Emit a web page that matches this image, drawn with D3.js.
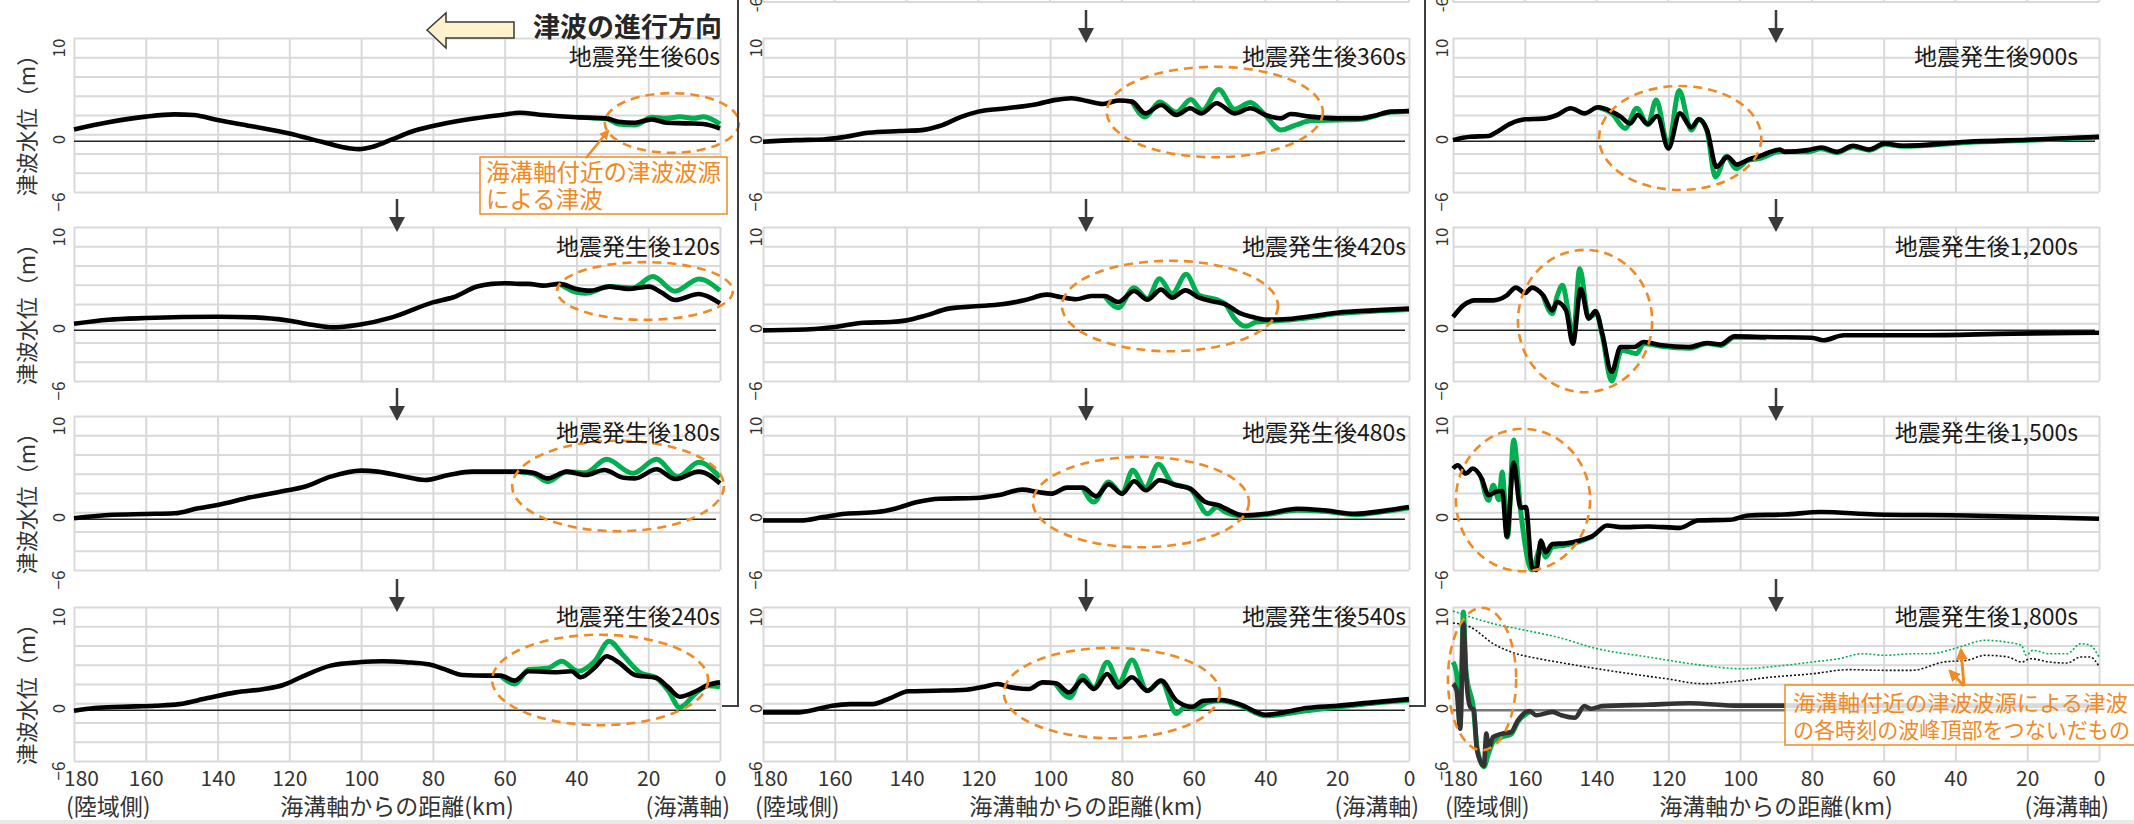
<!DOCTYPE html>
<html><head><meta charset="utf-8">
<script src="https://cdn.jsdelivr.net/npm/d3@7"></script>
<style>
body{margin:0;background:#fff;}
svg{display:block;}
text{font-family:"Noto Sans CJK JP","Noto Sans",sans-serif;}
</style>
</head><body>
<svg id="c" width="2134" height="824"></svg>
<script>
// ---------- data (km from trench axis, water level m) ----------
const xTicks = [180,160,140,120,100,80,60,40,20,0];
const yGrid  = [10,8,6,4,2,0,-2,-4,-6];
const yLabels = [10,0,-6];
const titles = ["地震発生後60s","地震発生後120s","地震発生後180s","地震発生後240s",
                "地震発生後360s","地震発生後420s","地震発生後480s","地震発生後540s",
                "地震発生後900s","地震発生後1,200s","地震発生後1,500s","地震発生後1,800s"];

const black60 = [[180,0.5],[170.4,1.24],[160,1.83],[152,2.07],[146.7,2.0],[140,1.48],[129.6,0.78],[120,0.09],[111,-0.78],[103,-1.48],[100.6,-1.55],[96.7,-1.3],[91.4,-0.54],[86,0.26],[80,0.85],[70,1.55],[60,2.05],[55.9,2.24],[49.3,2.0],[40,1.76],[31.6,1.65],[28.3,1.3],[23.7,1.2],[19,1.55],[15,1.2],[8.5,1.13],[4.6,1.06],[0,0.6]];
const green60 = [[40,1.76],[31.6,1.6],[28.3,1.06],[23.7,0.96],[19,1.76],[15,1.65],[11.2,1.83],[7.3,1.65],[4.6,1.83],[0,1.06]];

const black120 = [[180,-0.05],[170.4,0.37],[160,0.54],[140,0.68],[129.6,0.61],[120,0.26],[113.8,-0.16],[107.9,-0.43],[100.6,-0.16],[91.4,0.61],[80,2.17],[74.3,2.7],[67.7,3.81],[63.6,4.09],[60,4.16],[55.9,4.09],[53.3,4.09],[49.3,3.91],[44.7,4.09],[40,3.57],[36.1,3.39],[30.9,3.81],[25.6,3.57],[19.7,3.81],[16.4,3.22],[12.5,2.42],[5.9,3.04],[3.3,2.77],[0,2.07]];
const green120 = [[44.7,4.09],[40,3.22],[37.4,3.11],[30.9,3.81],[24.3,3.67],[18.7,4.85],[12.5,3.32],[5.9,4.61],[0,3.39]];

const black180 = [[180,-0.63],[170.4,-0.29],[160,-0.18],[152,-0.11],[145.4,0.41],[140,0.75],[130.8,1.55],[120,2.31],[116.3,2.59],[108.5,3.7],[100,4.32],[95.4,4.22],[88.8,3.77],[82.2,3.35],[75.6,3.87],[69.1,4.22],[62.5,4.22],[55.9,4.22],[52,4.11],[48,3.52],[42.7,4.22],[37.5,3.87],[32.2,4.39],[26.9,3.59],[23.7,3.52],[17.7,4.46],[12.5,3.46],[5.9,4.22],[0,3.0]];
const green180 = [[55.9,4.22],[52,4.0],[48,3.18],[42.7,4.22],[37.5,4.11],[31.6,5.5],[24.3,4.04],[17.7,5.5],[11.8,3.7],[5.9,5.19],[0,3.63]];

const black240 = [[180,-0.78],[174.3,-0.5],[166.4,-0.37],[157.2,-0.26],[150.7,-0.09],[142.8,0.54],[134.9,1.13],[127,1.48],[121.7,1.9],[116.4,2.77],[108.5,3.91],[100.6,4.26],[94,4.37],[87.5,4.26],[80.9,4.02],[77,3.57],[71.7,2.94],[65.1,2.87],[61.2,2.87],[57.2,2.35],[53.3,3.32],[45.4,3.22],[41.4,3.32],[38.8,2.7],[34.8,3.74],[31.6,4.89],[28.3,4.26],[23.7,2.94],[17.7,2.63],[14.4,1.65],[11.2,0.68],[6.5,1.3],[3.3,1.9],[0,2.17]];
const green240 = [[61.2,2.87],[57.2,2.0],[53.3,3.5],[48,3.63],[44.1,4.37],[39.5,3.32],[34.8,4.43],[30.9,6.45],[26.9,4.96],[22.4,3.22],[17.7,2.63],[14.4,1.3],[11.2,-0.43],[6.5,1.13],[3.3,1.83],[0,1.72]];

const black360 = [[180,-0.78],[170.7,-0.61],[163.2,-0.54],[157,-0.26],[150.7,0.16],[142,0.33],[135.8,0.43],[130.8,0.85],[124.6,1.83],[120,2.35],[112.1,2.7],[103.4,3.15],[98.4,3.57],[94,3.74],[89.7,3.46],[85.3,3.15],[81,3.5],[77.2,3.39],[73.5,2.17],[69.1,3.04],[64.8,2.0],[61,2.7],[57.9,2.17],[53.6,3.22],[48.6,2.17],[44.2,2.7],[40,2.0],[35.6,1.65],[33.1,2.1],[27.5,1.83],[20,1.65],[13.7,1.65],[10,1.9],[5,2.35],[0,2.42]];
const green360 = [[77.2,3.39],[73.5,1.8],[69.5,3.35],[64.8,2.3],[60.8,3.6],[57.6,2.5],[53,4.65],[48.6,2.6],[44.2,3.3],[40.6,2.2],[35.6,0.45],[31.6,0.95],[27.5,1.4],[20,1.48],[13.7,1.55],[5,2.3],[0,2.4]];

const black420 = [[180,-0.74],[166.9,-0.63],[160,-0.39],[152,0.06],[144.5,0.13],[140,0.3],[134.5,0.82],[128.3,1.52],[120.9,1.76],[113.4,1.97],[107.2,2.38],[100.9,2.97],[97.2,2.73],[92.8,2.49],[88.5,2.83],[84.8,2.83],[81,2.21],[76.6,3.35],[72.9,2.45],[69.1,3.49],[66,2.66],[62.3,3.42],[58.5,2.66],[54.8,2.28],[51.1,1.97],[47.3,1.07],[43.6,0.65],[39.9,0.38],[34.9,0.41],[27.4,0.72],[20,1.1],[10,1.34],[0,1.52]];
const green420 = [[84.8,2.83],[81,1.62],[76.6,3.7],[72.9,2.56],[69.5,4.63],[66,3.08],[62.1,5.08],[58.5,2.9],[53.6,2.45],[51.1,1.97],[48.6,0.48],[45.5,-0.32],[42.5,0.13],[39.9,0.2],[34.9,0.3],[27.4,0.6],[20,1.0],[10,1.25],[0,1.42]];

const black480 = [[180,-0.85],[169.4,-0.85],[163.2,-0.5],[157,-0.16],[148.2,0.02],[143.3,0.37],[137,1.06],[130.8,1.41],[120.8,1.48],[114.6,1.76],[107.7,2.35],[103.4,2.1],[99.7,1.93],[95.3,2.56],[90.9,2.56],[87.2,1.65],[83.7,2.9],[80,1.93],[76.6,3.22],[73.3,2.28],[69.5,3.32],[64.8,2.8],[61,2.45],[56.7,1.06],[52.9,0.71],[51.1,0.37],[46.1,-0.33],[39.9,-0.16],[31.1,0.37],[23.7,0.2],[15,-0.16],[7.5,0.12],[0,0.54]];
const green480 = [[90.9,2.56],[87.8,1.06],[83.7,3.15],[80,1.93],[77,4.37],[73.5,2.56],[69.8,4.99],[66,3.0],[61,2.45],[56.1,-0.16],[53.6,0.54],[51.1,0.0],[46.1,-0.4],[39.9,-0.25],[31.1,0.2],[23.7,0.1],[15,-0.25],[7.5,0.05],[0,0.45]];

const black540 = [[180,-0.96],[170.7,-0.96],[166.9,-0.78],[160.7,-0.26],[155.7,-0.09],[149.5,-0.09],[144.5,0.54],[139.5,1.24],[132,1.3],[123.3,1.41],[118.3,1.72],[114.6,2.0],[110.9,1.65],[105.9,1.48],[102.1,2.17],[98.4,2.07],[94.7,1.13],[90.9,2.42],[87.8,1.48],[84.1,3.04],[81,1.65],[77.2,2.7],[72.9,1.3],[69.1,2.35],[64.8,0.26],[60.4,-0.37],[57.3,0.26],[52.3,0.33],[47.3,-0.09],[39.9,-1.2],[34.9,-0.96],[28.6,-0.5],[20,-0.26],[10,0.09],[0,0.43]];
const green540 = [[98.4,2.0],[94.5,0.61],[90.9,2.87],[87.8,1.6],[84.1,4.26],[80.8,2.17],[77.2,4.5],[72.9,1.3],[69.1,2.3],[64.8,-1.06],[62.3,-0.37],[59.8,-0.61],[56.1,0.09],[52.3,0.25],[47.3,-0.2],[39.9,-1.3],[28.6,-0.78],[20,-0.4],[10,0.0],[0,0.3]];

const black900 = [[180,-0.61],[175.2,-0.26],[170.1,-0.19],[168.2,0.16],[163.8,1.13],[159.9,1.55],[154.9,1.62],[151,2.0],[147.2,2.7],[143.4,2.17],[139.6,2.8],[135.8,2.35],[133.3,1.83],[130.7,1.13],[128.5,2.0],[125.7,1.06],[123.1,1.9],[120,-1.48],[116.8,2.17],[113.6,0.71],[111.5,1.55],[109.2,0.43],[106.6,-3.39],[103.5,-2.35],[100.9,-3.15],[97.7,-2.63],[94.6,-2.28],[92.7,-2.0],[88.9,-1.58],[87.6,-1.83],[81.2,-1.65],[77.4,-1.37],[73,-1.83],[68.5,-1.2],[64.1,-1.58],[59.7,-0.96],[54.6,-1.2],[36.8,-0.78],[17.8,-0.54],[0,-0.26]];
const green900 = [[139.6,2.8],[135.8,2.17],[132,0.61],[128.8,2.7],[125.7,1.0],[123.4,3.57],[120,-1.2],[117,4.54],[113.6,0.43],[111.5,1.55],[109.2,0.3],[106.9,-4.43],[103.8,-2.28],[101.2,-3.57],[97.7,-2.7],[94.6,-2.52],[88.9,-1.8],[81.2,-1.83],[77.4,-1.5],[73,-1.9],[68.5,-1.3],[64.1,-1.65],[59.7,-1.05],[54.6,-1.25],[36.8,-0.85],[17.8,-0.6],[0,-0.3]];

const black1200 = [[180,0.65],[177.1,1.86],[173.9,2.38],[168.8,2.38],[165,2.9],[162.5,3.7],[159.9,3.14],[158,3.7],[154.9,2.9],[152.3,1.34],[151,2.21],[148.5,1.34],[146.6,-2.12],[144.4,3.59],[142.2,0.48],[140.3,1.27],[138.4,-1.08],[135.8,-5.06],[133.3,-2.47],[129.5,-2.47],[126.9,-1.95],[121.9,-2.29],[114.2,-2.47],[109.2,-2.05],[105.4,-2.19],[101.6,-1.36],[92.7,-1.43],[80,-1.5],[76.8,-1.77],[71.1,-1.25],[49.5,-1.25],[24.1,-1.08],[0,-0.98]];
const green1200 = [[154.9,2.9],[152.3,1.0],[151,2.8],[149.5,3.94],[147.9,1.2],[146.6,-1.77],[144.7,5.67],[142.2,0.6],[140,1.0],[138.4,-1.3],[135.8,-6.0],[133,-2.81],[128.8,-3.16],[126.9,-2.1],[121.9,-2.4],[114.2,-2.6],[109.2,-2.1],[105.4,-2.3],[101.6,-1.45],[92.7,-1.5]];

const black1500 = [[180,4.54],[178.7,4.89],[176.4,4.02],[174.5,4.54],[172,3.5],[170.1,1.76],[168.2,2.1],[166.3,2.21],[165,-2.52],[163.1,5.13],[161.2,0.47],[159.7,0.54],[158,-5.72],[156.8,-6.0],[155.5,-2.94],[154.2,-4.16],[152.3,-3.29],[148.5,-3.22],[144.7,-2.94],[140.9,-2.42],[137.1,-1.37],[133.3,-1.55],[125.7,-1.48],[116.8,-1.62],[111.7,-0.85],[102.8,-0.78],[97.7,-0.33],[87.6,-0.23],[77.4,0.02],[62.2,-0.23],[36.8,-0.33],[0,-0.68]];
const green1500 = [[172,3.5],[170.1,1.24],[168.8,2.8],[167.2,1.3],[166.3,4.19],[164.8,-2.6],[163.1,7.5],[161.2,0.3],[158,-6.0],[155.5,-3.6],[154.2,-4.68],[152.3,-3.6],[148.5,-3.4],[144.7,-3.05],[140.9,-2.5]];

const black1800 = [[180,2.03],[179,1.34],[178,-2.64],[177.1,8.27],[176.4,3.07],[175.2,-0.39],[174.2,-0.74],[173.3,-4.89],[171.4,-6.5],[170.7,-3.16],[170.1,-4.72],[168.8,-3.5],[166.3,-3.16],[163.8,-2.99],[161.9,-1.77],[158.7,-0.8],[156.8,-1.25],[152.3,-0.9],[149.8,-1.25],[146,-1.5],[143.4,-0.3],[141.5,-0.57],[138.4,-0.3],[125.7,-0.15],[114.2,0.0],[100.3,-0.25],[87.6,-0.25],[60,-0.25],[30,-0.25],[0,-0.25]];
const green1800 = [[180,4.29],[179,3.07],[178,-2.3],[177.1,9.48],[176.4,3.4],[174.2,-0.9],[173.3,-4.6],[171.4,-6.6],[170.1,-5.2],[168.8,-4.0],[166.3,-3.5],[163.8,-3.2],[161.9,-1.9],[158.7,-0.9]];
const greenCrest = [[180,9.58],[168.8,8.27],[159.9,7.58],[151,6.88],[139.9,5.67],[125.7,4.81],[110.4,3.94],[99.8,3.59],[87.6,3.94],[79.7,4.29],[72.4,4.63],[66,5.15],[59.7,4.98],[52,5.15],[47,5.15],[39.4,5.78],[31.7,6.54],[26,6.37],[21.6,6.02],[20.3,4.98],[18.4,5.5],[14,5.15],[8.9,5.15],[5.1,6.19],[2.5,6.02],[0,4.81]];
const blackCrest = [[180,8.34],[175.2,7.92],[168.8,6.19],[163.8,5.32],[156.1,4.63],[151,4.29],[139.9,3.59],[130.7,3.07],[120.6,2.55],[110.4,2.03],[100.3,2.31],[92.7,2.66],[79.7,3.07],[69.8,3.49],[59.7,3.42],[52,3.42],[43.2,4.29],[36.8,4.46],[31.7,4.98],[25.4,4.81],[21.6,4.29],[19,4.63],[14,4.29],[8.9,4.18],[5.1,4.81],[2.5,4.81],[0,3.84]];

// highlighted regions (centre km, centre m, radius km, radius m)
const rings = [[13.4,1.17,18.7,3.1],[20.9,3.35,24.5,3.0],[28.4,2.73,29.5,4.7],[33.4,2.42,30.1,4.7],
               [54.1,2.31,30.1,4.7],[66.6,1.79,30.1,4.7],[74.7,1.06,30.1,4.7],[82.8,1.06,30.1,4.7],
               [116.7,-0.39,22.6,5.4],[143.2,0.23,18.7,7.4],[160.5,1.27,18.7,7.4],[171.9,2.52,9.5,7.4]];

const blacks = [black60,black120,black180,black240,black360,black420,black480,black540,black900,black1200,black1500,black1800];
const greens = [green60,green120,green180,green240,green360,green420,green480,green540,green900,green1200,green1500,green1800];

// ---------- layout ----------
const colL = [74,763,1453], PW = 646;
const rowT = [38,227,416,607], PH = 154;
const titleX = [720,1406,2078];
const titleY = [65,255,441,625];
const yLabOff = [-15,-7,-11];
const ORANGE = "#F08A24", GREEN = "#00B050";
const FONT = '"Noto Sans CJK JP","Noto Sans",sans-serif';

const svg = d3.select("#c");
svg.append("rect").attr("width",2134).attr("height",824).attr("fill","#fff");
svg.append("rect").attr("x",0).attr("y",820).attr("width",2134).attr("height",4).attr("fill","#e8e8e8");

const defs = svg.append("defs");
defs.append("marker").attr("id","oh").attr("viewBox","0 0 10 10").attr("refX",8).attr("refY",5)
  .attr("markerWidth",4).attr("markerHeight",4).attr("orient","auto")
  .append("path").attr("d","M0,0L10,5L0,10z").attr("fill",ORANGE);

function downArrow(x, y0, y1){
  svg.append("line").attr("x1",x).attr("x2",x).attr("y1",y0).attr("y2",y1-12)
    .attr("stroke","#3a3a3a").attr("stroke-width",2.5);
  svg.append("path").attr("d",`M${x-8},${y1-15}L${x+8},${y1-15}L${x},${y1}Z`).attr("fill","#3a3a3a");
}

for (let c=0;c<3;c++){
  for (let r=0;r<4;r++){
    const i = c*4+r;
    const L = colL[c], T = rowT[r];
    const x = d3.scaleLinear().domain([180,0]).range([L,L+PW]);
    const y = d3.scaleLinear().domain([10,-6]).range([T,T+PH]);
    const g = svg.append("g");

    // gridlines
    const gx = g.append("g").attr("transform",`translate(0,${T+PH})`)
      .call(d3.axisBottom(x).tickValues(xTicks).tickSize(-PH).tickFormat(""));
    gx.select(".domain").remove();
    gx.selectAll("line").attr("stroke","#d9d9d9").attr("stroke-width",2);
    const gy = g.append("g").attr("transform",`translate(${L},0)`)
      .call(d3.axisLeft(y).tickValues(yGrid).tickSize(-PW).tickFormat(""));
    gy.select(".domain").remove();
    gy.selectAll("line").attr("stroke","#d9d9d9").attr("stroke-width",2);

    // y labels (rotated)
    const yl = g.append("g").attr("transform",`translate(${L},0)`)
      .call(d3.axisLeft(y).tickValues(yLabels).tickSize(0).tickFormat(d3.format("d")));
    yl.select(".domain").remove();
    yl.selectAll("text").attr("transform",`translate(${yLabOff[c]},0) rotate(-90)`)
      .attr("x",0).attr("y",0).attr("dy","0.35em").attr("text-anchor","end")
      .attr("font-size",17).attr("fill","#333").style("font-family",FONT);

    // reference line
    g.append("line").attr("x1",L).attr("x2",L+PW-4).attr("y1",y(-0.72)).attr("y2",y(-0.72))
      .attr("stroke", (c==2&&r==3)?"#777":"#222").attr("stroke-width",(c==2&&r==3)?2.5:1.4);

    const line = d3.line().x(d=>x(d[0])).y(d=>y(d[1])).curve(d3.curveMonotoneX);
    if (c==2 && r==3){
      g.append("path").attr("d",line(greenCrest)).attr("fill","none").attr("stroke",GREEN)
        .attr("stroke-width",1.6).attr("stroke-dasharray","2,2");
      g.append("path").attr("d",line(blackCrest)).attr("fill","none").attr("stroke","#111")
        .attr("stroke-width",1.6).attr("stroke-dasharray","2,2");
    }
    g.append("path").attr("d",line(greens[i])).attr("fill","none").attr("stroke",GREEN)
      .attr("stroke-width",5).attr("stroke-linejoin","round");
    g.append("path").attr("d",line(blacks[i])).attr("fill","none")
      .attr("stroke",(c==2&&r==3)?"#333":"#000").attr("stroke-width",4.6).attr("stroke-linejoin","round");

    // highlight ring
    const e = rings[i];
    g.append("ellipse").attr("cx",x(e[0])).attr("cy",y(e[1]))
      .attr("rx",Math.abs(x(0)-x(e[2]))).attr("ry",Math.abs(y(0)-y(e[3])))
      .attr("fill","none").attr("stroke",ORANGE).attr("stroke-width",2.6).attr("stroke-dasharray","9,6");

    // title
    g.append("text").attr("x",titleX[c]).attr("y",titleY[r]).attr("text-anchor","end")
      .attr("font-size",23).attr("fill","#1a1a1a").text(titles[i]);

    // down arrows
    if (!(c==0 && r==0)) downArrow(x(90), T-28, T+5);

    // bottom axis
    if (r==3){
      const ax = g.append("g").attr("transform",`translate(0,${T+PH})`)
        .call(d3.axisBottom(x).tickValues(xTicks).tickSize(0).tickPadding(10).tickFormat(d3.format("d")));
      ax.select(".domain").remove();
      ax.selectAll("text").attr("font-size",21).attr("fill","#333").style("font-family",FONT)
        .attr("dx",d=>d==180?7:0);
      g.append("text").attr("x",L-8).attr("y",815).attr("font-size",23).attr("fill","#333").text("(陸域側)");
      g.append("text").attr("x",L+PW+10).attr("y",815).attr("text-anchor","end").attr("font-size",23).attr("fill","#333").text("(海溝軸)");
      g.append("text").attr("x",L+PW/2).attr("y",815).attr("text-anchor","middle").attr("font-size",23).attr("fill","#333").text("海溝軸からの距離(km)");
    }
    if (c==0){
      g.append("text").attr("transform",`translate(27,${T+PH/2+5}) rotate(-90)`)
        .attr("text-anchor","middle").attr("dy","0.35em").attr("font-size",22).attr("fill","#333").text("津波水位（m）");
    }
  }
  // partial chart edge at top of columns 2 and 3
  if (c>0){
    const L = colL[c];
    const x = d3.scaleLinear().domain([180,0]).range([L,L+PW]);
    svg.append("line").attr("x1",L).attr("x2",L+PW).attr("y1",2).attr("y2",2).attr("stroke","#d9d9d9").attr("stroke-width",2);
    svg.append("g").selectAll("line").data(xTicks).join("line")
      .attr("x1",d=>x(d)).attr("x2",d=>x(d)).attr("y1",0).attr("y2",2).attr("stroke","#d9d9d9").attr("stroke-width",2);
    svg.append("text").attr("transform",`translate(${L+yLabOff[c]},-3) rotate(-90)`)
      .attr("text-anchor","end").attr("dy","0.35em").attr("font-size",17).attr("fill","#333").text("-6");
  }
}

// column dividers
svg.append("path").attr("d","M738,0V706H722").attr("fill","none").attr("stroke","#404040").attr("stroke-width",2);
svg.append("path").attr("d","M1425,0V706H1409").attr("fill","none").attr("stroke","#404040").attr("stroke-width",2);

// header arrow & caption
svg.append("path").attr("d","M427,30L446,13L446,22L514,22L514,38L446,38L446,48Z")
  .attr("fill","#FFF2CC").attr("stroke","#3a3a3a").attr("stroke-width",1.5);
svg.append("text").attr("x",722).attr("y",37).attr("text-anchor","end").attr("font-size",27)
  .attr("font-weight","bold").attr("fill","#262626").text("津波の進行方向");

// annotation 1
svg.append("rect").attr("x",480).attr("y",157).attr("width",247).attr("height",57)
  .attr("fill","#fff").attr("stroke",ORANGE).attr("stroke-width",1.5);
svg.append("text").attr("x",486).attr("y",181).attr("font-size",23.5).attr("fill",ORANGE).text("海溝軸付近の津波波源");
svg.append("text").attr("x",486).attr("y",208).attr("font-size",23.5).attr("fill",ORANGE).text("による津波");
svg.append("line").attr("x1",586).attr("y1",158).attr("x2",608).attr("y2",131)
  .attr("stroke",ORANGE).attr("stroke-width",2.5).attr("marker-end","url(#oh)");

// annotation 2
svg.append("rect").attr("x",1785).attr("y",685).attr("width",360).attr("height",60)
  .attr("fill","#fff").attr("fill-opacity",0.82).attr("stroke",ORANGE).attr("stroke-width",1.5);
svg.append("text").attr("x",1793).attr("y",711).attr("font-size",22).attr("textLength",335)
  .attr("lengthAdjust","spacingAndGlyphs").attr("fill",ORANGE).text("海溝軸付近の津波波源による津波");
svg.append("text").attr("x",1793).attr("y",738).attr("font-size",22).attr("textLength",337)
  .attr("lengthAdjust","spacingAndGlyphs").attr("fill",ORANGE).text("の各時刻の波峰頂部をつないだもの");
svg.append("line").attr("x1",1964).attr("y1",686).attr("x2",1961).attr("y2",650)
  .attr("stroke",ORANGE).attr("stroke-width",3).attr("marker-end","url(#oh)");
svg.append("line").attr("x1",1964).attr("y1",686).attr("x2",1950).attr("y2",671)
  .attr("stroke",ORANGE).attr("stroke-width",3).attr("marker-end","url(#oh)");
</script>
</body></html>
